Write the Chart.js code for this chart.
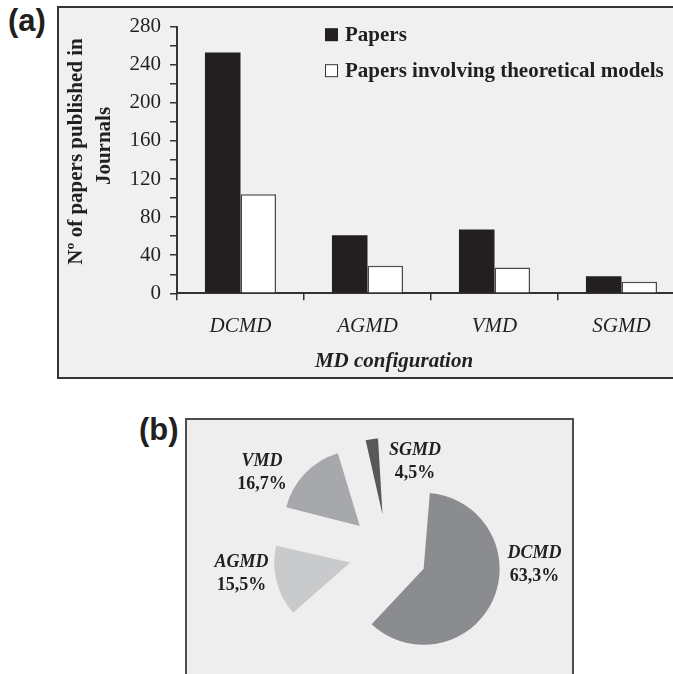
<!DOCTYPE html>
<html>
<head>
<meta charset="utf-8">
<script src="https://cdn.jsdelivr.net/npm/chart.js@4.4.1/dist/chart.umd.min.js"></script>
<style>
html,body{margin:0;padding:0;background:#ffffff;width:673px;height:674px;overflow:hidden;position:relative;}
.box{position:absolute;box-sizing:border-box;}
#boxA{left:57px;top:6px;width:680px;height:373px;border:2px solid #333333;background:#f0f0f0;}
#boxB{left:185px;top:418px;width:389px;height:300px;border:2px solid #4d4d4d;background:#eeeeee;}
.plabel{position:absolute;font-family:'Liberation Sans',Arial,sans-serif;font-weight:bold;font-size:31px;line-height:31px;color:#231f20;}
canvas{position:absolute;}
</style>
</head>
<body>
<div id="boxA" class="box"></div>
<div id="boxB" class="box"></div>
<div class="plabel" style="left:8px;top:5px">(a)</div>
<div class="plabel" style="left:139px;top:414px">(b)</div>
<canvas id="barChart" width="720" height="380" style="left:0;top:0"></canvas>
<canvas id="pieChart" width="400" height="300" style="left:188px;top:403px"></canvas>
<script>
// ---- data ----
const categories = ['DCMD', 'AGMD', 'VMD', 'SGMD'];
const seriesNames = ['Papers', 'Papers involving theoretical models'];
const papers = [253, 61, 67, 18];
const theoretical = [104, 29, 27, 12];
const yTickLabels = [0, 40, 80, 120, 160, 200, 240, 280];
const yMinorTicks = [20, 60, 100, 140, 180, 220, 260];
const yTitle = ['N\u00BA of papers published in', 'Journals'];
const xTitle = 'MD configuration';
const pieLabels = ['DCMD', 'AGMD', 'VMD', 'SGMD'];
const pieShares = [63.3, 15.5, 16.7, 4.5];

// ---- styling ----
const SERIF = '"Liberation Serif", "Times New Roman", serif';
const INK = '#231f20';
const AXIS = '#333333';

const barOverlay = {
  id: 'barOverlay',
  afterDraw(chart) {
    const ctx = chart.ctx;
    const a = chart.chartArea;
    ctx.save();
    // legend (inside plot area, top right)
    const lx = a.left + 148;
    const ly = a.top + 1.5;
    chart.data.datasets.forEach((ds, i) => {
      const y = ly + i * 36;
      ctx.fillStyle = ds.backgroundColor;
      ctx.fillRect(lx, y, 13, 13);
      if (ds.borderWidth) {
        ctx.strokeStyle = AXIS;
        ctx.lineWidth = 1;
        ctx.strokeRect(lx + 0.5, y + 0.5, 12, 12);
      }
      ctx.fillStyle = INK;
      ctx.font = 'bold 21px ' + SERIF;
      ctx.textAlign = 'left';
      ctx.textBaseline = 'alphabetic';
      ctx.fillText(ds.label, lx + 20, y + 12.5);
    });
    // y axis title (two lines, rotated)
    ctx.fillStyle = INK;
    ctx.font = 'bold 21px ' + SERIF;
    ctx.textAlign = 'center';
    ctx.textBaseline = 'alphabetic';
    const yCenters = [a.top + 124.8, a.top + 119.3];
    const xBase = [a.left - 95, a.left - 67];
    yTitle.forEach((line, i) => {
      ctx.save();
      ctx.translate(xBase[i], yCenters[i]);
      ctx.rotate(-Math.PI / 2);
      ctx.fillText(line, 0, 0);
      ctx.restore();
    });
    // x axis title
    ctx.font = 'italic bold 21px ' + SERIF;
    ctx.fillText(xTitle, a.left + 217, a.bottom + 73.7);
    ctx.restore();
  }
};

new Chart(document.getElementById('barChart'), {
  type: 'bar',
  data: {
    labels: categories,
    datasets: [
      { label: seriesNames[0], data: papers, backgroundColor: INK, borderWidth: 0 },
      { label: seriesNames[1], data: theoretical, backgroundColor: '#ffffff', borderColor: '#4a4a4a', borderWidth: 1.5 }
    ]
  },
  options: {
    responsive: false,
    animation: false,
    devicePixelRatio: 1,
    layout: { padding: { left: 0, top: 26.7, right: 35, bottom: 0 } },
    datasets: { bar: { barPercentage: 1, categoryPercentage: 0.56 } },
    plugins: { legend: { display: false }, tooltip: { enabled: false } },
    scales: {
      x: {
        grid: { offset: true, drawOnChartArea: false, drawTicks: true, tickLength: 7, color: AXIS, lineWidth: 1.5 },
        border: { color: AXIS, width: 2 },
        ticks: { font: { family: SERIF, size: 21, style: 'italic' }, color: INK, padding: 14, maxRotation: 0 },
        afterFit(s) { s.height = 380 - 293.3; }
      },
      y: {
        min: 0,
        max: 280,
        afterBuildTicks(s) {
          s.ticks = yTickLabels.concat(yMinorTicks).sort((p, q) => p - q).map(v => ({ value: v }));
        },
        ticks: {
          autoSkip: false,
          callback: v => (yTickLabels.includes(v) ? String(v) : ''),
          font: { family: SERIF, size: 21 },
          color: INK,
          padding: 9
        },
        grid: { drawOnChartArea: false, drawTicks: true, tickLength: 7, color: AXIS, lineWidth: 1.5 },
        border: { color: AXIS, width: 2 },
        afterFit(s) { s.width = 177; }
      }
    }
  },
  plugins: [barOverlay]
});

// ---- pie ----
const EXPLODE = 39;  // px radial shift of every slice
const PIE_R = 76;    // px slice radius
const pieOverlay = {
  id: 'pieOverlay',
  afterDatasetUpdate(chart, args) {
    // Chart.js grows the radius of offset arcs; keep every slice at the same radius
    args.meta.data.forEach((arc) => {
      const fix = 1 - Math.sin(Math.min(Math.PI, arc.circumference));
      arc.outerRadius = PIE_R - (EXPLODE * 4 / 4) * fix;
    });
  },
  afterDraw(chart) {
    const ctx = chart.ctx;
    const a = chart.chartArea;
    const cx = (a.left + a.right) / 2;
    const cy = (a.top + a.bottom) / 2;
    const anchors = [[146.5, 5.3], [-146.5, 13.7], [-126, -87], [27, -98]];
    ctx.save();
    ctx.fillStyle = INK;
    ctx.textAlign = 'center';
    ctx.textBaseline = 'alphabetic';
    chart.data.labels.forEach((lab, i) => {
      const [dx, dy] = anchors[i];
      ctx.font = 'italic bold 18px ' + SERIF;
      ctx.fillText(lab, cx + dx, cy + dy);
      ctx.font = 'bold 18px ' + SERIF;
      ctx.fillText(pieShares[i].toFixed(1).replace('.', ',') + '%', cx + dx, cy + dy + 23);
    });
    ctx.restore();
  }
};

new Chart(document.getElementById('pieChart'), {
  type: 'pie',
  data: {
    labels: pieLabels,
    datasets: [{
      data: pieShares,
      backgroundColor: ['#8b8c90', '#c9cacc', '#a7a8ab', '#58585b'],
      borderWidth: 0,
      clip: false,
      offset: EXPLODE * 4
    }]
  },
  options: {
    responsive: false,
    animation: false,
    devicePixelRatio: 1,
    radius: PIE_R,
    layout: { padding: 0 },
    plugins: { legend: { display: false }, tooltip: { enabled: false } }
  },
  plugins: [pieOverlay]
});
</script>
</body>
</html>
